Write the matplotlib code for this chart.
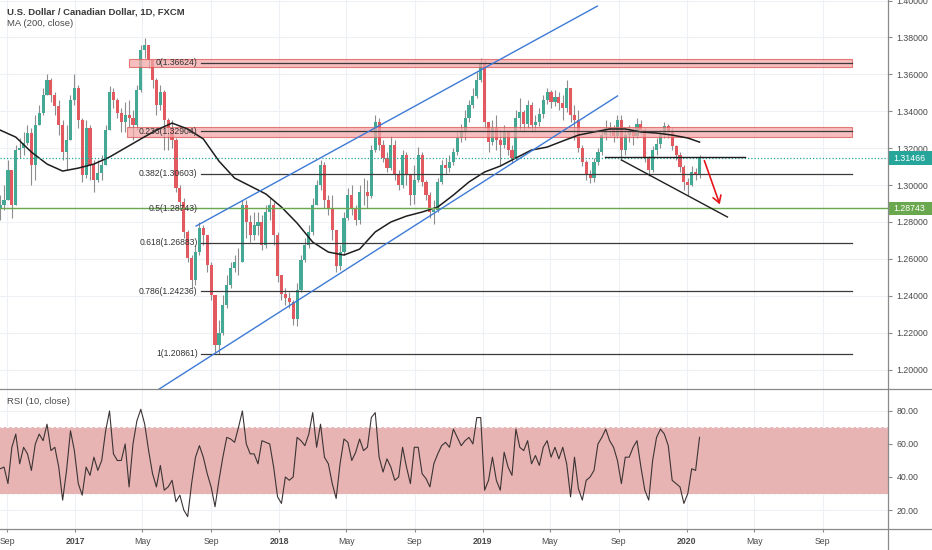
import numpy as np
import pandas as pd
import matplotlib
matplotlib.use('Agg')
import matplotlib.pyplot as plt
import matplotlib.dates as mdates
import matplotlib.transforms as mtransforms
from matplotlib.patches import Rectangle
from matplotlib.lines import Line2D

plt.rcParams['font.family'] = ['Liberation Sans', 'DejaVu Sans']

## data (weekly candles) ##

week_start = '2016-08-19'
first_open = 1.2870

closes = [1.2892, 1.2919, 1.3082, 1.2892, 1.3190, 1.3201, 1.3228, 1.3282, 1.3109, 1.3325,
          1.3391, 1.3488, 1.3569, 1.3488, 1.3428, 1.3325, 1.3179, 1.3244, 1.3461, 1.3526,
          1.3353, 1.3054, 1.3309, 1.3109, 1.3027, 1.3065, 1.3109, 1.3298, 1.3504, 1.3461,
          1.3391, 1.3342, 1.3380, 1.3363, 1.3325, 1.3515, 1.3732, 1.3759, 1.3678, 1.3569,
          1.3434, 1.3504, 1.3353, 1.3309, 1.3244, 1.2984, 1.2908, 1.2746, 1.2605, 1.2485,
          1.2637, 1.2767, 1.2729, 1.2567, 1.2404, 1.2133, 1.2198, 1.2350, 1.2458, 1.2550,
          1.2583, 1.2583, 1.2892, 1.2800, 1.2729, 1.2783, 1.2800, 1.2675, 1.2854, 1.2892,
          1.2729, 1.2512, 1.2410, 1.2388, 1.2366, 1.2279, 1.2431, 1.2594, 1.2675, 1.2746,
          1.2892, 1.3000, 1.3109, 1.2919, 1.2876, 1.2756, 1.2561, 1.2637, 1.2821, 1.2946,
          1.2876, 1.2811, 1.2962, 1.2962, 1.2941, 1.3190, 1.3342, 1.3217, 1.3147, 1.3092,
          1.3217, 1.3054, 1.3000, 1.3163, 1.3054, 1.2946, 1.3027, 1.3163, 1.3017, 1.2946,
          1.2854, 1.2865, 1.3017, 1.3109, 1.3092, 1.3125, 1.3179, 1.3255, 1.3288, 1.3363,
          1.3434, 1.3483, 1.3569, 1.3656, 1.3342, 1.3233, 1.3309, 1.3244, 1.3217, 1.3288,
          1.3190, 1.3147, 1.3363, 1.3396, 1.3331, 1.3434, 1.3325, 1.3342, 1.3385, 1.3461,
          1.3504, 1.3450, 1.3477, 1.3445, 1.3418, 1.3526, 1.3380, 1.3353, 1.3201, 1.3125,
          1.3054, 1.3038, 1.3125, 1.3179, 1.3271, 1.3309, 1.3298, 1.3266, 1.3353, 1.3190,
          1.3271, 1.3288, 1.3266, 1.3331, 1.3298, 1.3147, 1.3082, 1.3190, 1.3223, 1.3271,
          1.3320, 1.3288, 1.3212, 1.3163, 1.3098, 1.3017, 1.3000, 1.3071, 1.3054, 1.3147]

highs = [1.2946, 1.3000, 1.3136, 1.3082, 1.3217, 1.3255, 1.3288, 1.3325, 1.3309, 1.3380,
         1.3434, 1.3526, 1.3602, 1.3580, 1.3504, 1.3461, 1.3353, 1.3325, 1.3488, 1.3602,
         1.3542, 1.3363, 1.3353, 1.3325, 1.3136, 1.3136, 1.3163, 1.3325, 1.3537, 1.3526,
         1.3472, 1.3418, 1.3450, 1.3461, 1.3407, 1.3542, 1.3759, 1.3797, 1.3759, 1.3678,
         1.3580, 1.3542, 1.3515, 1.3363, 1.3353, 1.3255, 1.3000, 1.2930, 1.2756, 1.2621,
         1.2675, 1.2800, 1.2783, 1.2729, 1.2583, 1.2404, 1.2269, 1.2404, 1.2512, 1.2583,
         1.2621, 1.2659, 1.2919, 1.2919, 1.2838, 1.2854, 1.2854, 1.2838, 1.2892, 1.2930,
         1.2908, 1.2746, 1.2512, 1.2442, 1.2420, 1.2377, 1.2469, 1.2621, 1.2713, 1.2783,
         1.2930, 1.3027, 1.3136, 1.3125, 1.2946, 1.2946, 1.2746, 1.2675, 1.2854, 1.2984,
         1.3000, 1.2892, 1.3000, 1.3038, 1.3027, 1.3217, 1.3380, 1.3363, 1.3244, 1.3179,
         1.3266, 1.3244, 1.3082, 1.3190, 1.3179, 1.3054, 1.3109, 1.3206, 1.3179, 1.3027,
         1.2962, 1.2919, 1.3038, 1.3136, 1.3147, 1.3163, 1.3201, 1.3288, 1.3331, 1.3407,
         1.3461, 1.3526, 1.3613, 1.3689, 1.3678, 1.3342, 1.3353, 1.3380, 1.3298, 1.3325,
         1.3288, 1.3217, 1.3407, 1.3472, 1.3407, 1.3461, 1.3450, 1.3380, 1.3418, 1.3488,
         1.3526, 1.3515, 1.3515, 1.3504, 1.3488, 1.3569, 1.3526, 1.3434, 1.3407, 1.3217,
         1.3136, 1.3082, 1.3147, 1.3201, 1.3298, 1.3353, 1.3342, 1.3325, 1.3380, 1.3380,
         1.3309, 1.3325, 1.3309, 1.3363, 1.3353, 1.3309, 1.3157, 1.3212, 1.3255, 1.3298,
         1.3342, 1.3331, 1.3309, 1.3217, 1.3179, 1.3109, 1.3038, 1.3103, 1.3092, 1.3163]

lows = [1.2811, 1.2865, 1.2919, 1.2821, 1.2892, 1.3147, 1.3163, 1.3217, 1.3000, 1.3027,
        1.3325, 1.3380, 1.3488, 1.3450, 1.3380, 1.3271, 1.3136, 1.3082, 1.3244, 1.3434,
        1.3309, 1.3017, 1.3038, 1.3027, 1.2962, 1.3017, 1.3027, 1.3147, 1.3298, 1.3418,
        1.3363, 1.3288, 1.3288, 1.3309, 1.3244, 1.3298, 1.3504, 1.3689, 1.3634, 1.3526,
        1.3380, 1.3407, 1.3190, 1.3190, 1.3201, 1.2962, 1.2865, 1.2713, 1.2583, 1.2442,
        1.2458, 1.2621, 1.2675, 1.2529, 1.2377, 1.2095, 1.2084, 1.2187, 1.2334, 1.2442,
        1.2529, 1.2512, 1.2583, 1.2713, 1.2691, 1.2702, 1.2729, 1.2648, 1.2659, 1.2811,
        1.2675, 1.2475, 1.2377, 1.2350, 1.2334, 1.2241, 1.2236, 1.2420, 1.2583, 1.2659,
        1.2729, 1.2892, 1.2973, 1.2876, 1.2838, 1.2702, 1.2529, 1.2540, 1.2621, 1.2811,
        1.2838, 1.2783, 1.2789, 1.2892, 1.2876, 1.2930, 1.3179, 1.3190, 1.3125, 1.3071,
        1.3082, 1.3027, 1.2973, 1.2984, 1.3000, 1.2892, 1.2897, 1.3017, 1.2995, 1.2919,
        1.2821, 1.2789, 1.2854, 1.3006, 1.3060, 1.3071, 1.3109, 1.3163, 1.3233, 1.3244,
        1.3342, 1.3418, 1.3472, 1.3559, 1.3309, 1.3179, 1.3217, 1.3190, 1.3109, 1.3201,
        1.3163, 1.3120, 1.3136, 1.3298, 1.3288, 1.3309, 1.3288, 1.3288, 1.3320, 1.3363,
        1.3439, 1.3418, 1.3428, 1.3407, 1.3353, 1.3396, 1.3342, 1.3244, 1.3179, 1.3103,
        1.3027, 1.3011, 1.3017, 1.3109, 1.3163, 1.3244, 1.3266, 1.3233, 1.3255, 1.3136,
        1.3163, 1.3233, 1.3217, 1.3255, 1.3277, 1.3125, 1.3049, 1.3071, 1.3163, 1.3201,
        1.3255, 1.3255, 1.3190, 1.3136, 1.3071, 1.2973, 1.2946, 1.2995, 1.3027, 1.3038]

# MA(200) read every 4th week (plus the last one)
ma_idx = list(range(0, 177, 4)) + [179]
ma200 = [1.3298, 1.3260, 1.3179, 1.3114, 1.3076, 1.3092, 1.3114, 1.3152, 1.3201, 1.3250,
         1.3298, 1.3336, 1.3304, 1.3250, 1.3130, 1.3038, 1.2995, 1.2952, 1.2881, 1.2794,
         1.2691, 1.2637, 1.2621, 1.2653, 1.2746, 1.2800, 1.2832, 1.2854, 1.2881, 1.2946,
         1.3017, 1.3071, 1.3103, 1.3147, 1.3190, 1.3206, 1.3239, 1.3271, 1.3288, 1.3304,
         1.3304, 1.3288, 1.3282, 1.3271, 1.3255, 1.3233]

rsi = [45, 46, 36, 58, 66, 48, 58, 54, 44, 60,
       66, 62, 72, 56, 58, 46, 26, 44, 68, 56,
       36, 29, 46, 41, 52, 44, 50, 68, 80, 54,
       50, 50, 60, 34, 60, 74, 81, 72, 56, 42,
       34, 47, 32, 34, 38, 25, 29, 20, 16, 36,
       52, 59, 52, 42, 34, 22, 38, 52, 64, 63,
       61, 70, 80, 60, 54, 54, 48, 62, 61, 60,
       46, 28, 24, 40, 38, 40, 64, 62, 59, 66,
       79, 58, 72, 52, 48, 36, 27, 48, 63, 61,
       50, 55, 63, 56, 58, 76, 79, 52, 43, 51,
       46, 38, 40, 58, 46, 36, 58, 58, 42, 39,
       34, 48, 54, 59, 61, 58, 69, 64, 59, 62,
       64, 60, 76, 76, 32, 38, 52, 38, 32, 55,
       46, 41, 69, 58, 56, 62, 48, 53, 47, 58,
       62, 52, 58, 51, 58, 48, 28, 52, 33, 26,
       38, 40, 44, 60, 64, 69, 62, 58, 50, 36,
       52, 52, 58, 62, 46, 32, 26, 50, 64, 69,
       66, 59, 38, 36, 34, 24, 30, 45, 44, 64]

fib_ratios = ['0', '0.236', '0.382', '0.5', '0.618', '0.786', '1']
fib_prices = [1.36624, 1.32904, 1.30603, 1.28743, 1.26883, 1.24236, 1.20861]
last_price = 1.31466

zone_starts = ['2017-04-07', '2017-04-03']
zone_bottoms = [1.3640, 1.3262]
zone_tops = [1.3684, 1.3316]

channel_upper = (['2017-08-05', '2019-07-25'], [1.2778, 1.3970])
channel_lower = (['2017-05-31', '2019-08-30'], [1.1895, 1.3483])
support_line = (['2019-08-08', '2020-04-14'], [1.3150, 1.3150])
falling_line = (['2019-09-06', '2020-03-14'], [1.3136, 1.2827])
arrow_pts = (['2020-01-31', '2020-03-02'], [1.3147, 1.2881])

xtick_dates = ['2016-09-01', '2017-01-01', '2017-05-01', '2017-09-01', '2018-01-01',
               '2018-05-01', '2018-09-01', '2019-01-01', '2019-05-01', '2019-09-01',
               '2020-01-01', '2020-05-01', '2020-09-01']
xtick_labels = ['Sep', '2017', 'May', 'Sep', '2018', 'May', 'Sep', '2019',
                'May', 'Sep', '2020', 'May', 'Sep']
price_ticks = [1.20, 1.22, 1.24, 1.26, 1.28, 1.30, 1.32, 1.34, 1.36, 1.38, 1.40]
rsi_ticks = [20, 40, 60, 80]

## figure ##

def d(s):
    return mdates.date2num(pd.Timestamp(s))

W, H = 932, 550
fig = plt.figure(figsize=(W / 100, H / 100), dpi=100)
ax = fig.add_axes([0, 1 - 389 / H, 888 / W, 389 / H])
ax_r = fig.add_axes([0, 1 - 529 / H, 888 / W, 140 / H], sharex=ax)

x_left = d('2016-08-18 18:00')
x_right = d('2020-12-26 16:00')

grid_c = '#edf0f5'
text_c = '#4a4a4a'
axis_c = '#8a8a8a'

for a in (ax, ax_r):
    for s in a.spines.values():
        s.set_visible(False)
    a.set_facecolor('white')
    a.grid(True, color=grid_c, lw=0.8, zorder=0)
    a.set_axisbelow(True)
    a.yaxis.tick_right()
    a.tick_params(axis='y', length=3, color=axis_c, labelsize=6.3, labelcolor=text_c, pad=3)
    a.tick_params(axis='x', length=2, color=axis_c, labelsize=6.3, labelcolor=text_c, pad=4)

# candles
dates = pd.date_range(week_start, periods=len(closes), freq='7D')
xs = mdates.date2num(dates)
c = np.array(closes)
o = np.concatenate([[first_open], c[:-1]])
hi = np.maximum(np.array(highs), np.maximum(o, c))
lo = np.minimum(np.array(lows), np.minimum(o, c))
up = c >= o
body_col = np.where(up, '#44a994', '#e25a5f')
ax.vlines(xs, lo, hi, colors='#8d8d8d', lw=0.8, zorder=2)
ax.bar(xs, np.abs(c - o) + 0.0004, bottom=np.minimum(o, c) - 0.0002, width=5.6,
       color=body_col, edgecolor='none', zorder=3)

# MA 200
ax.plot(xs[ma_idx], ma200, color='#1e1e1e', lw=1.1, zorder=5)

# supply zones
fib_x0 = d('2017-08-13')
fib_x1 = d('2020-10-23')
for s, b, t in zip(zone_starts, zone_bottoms, zone_tops):
    ax.add_patch(Rectangle((d(s), b), fib_x1 - d(s), t - b, facecolor='#f3a9a9',
                           edgecolor='#e05555', lw=0.8, alpha=0.75, zorder=4))

# fib levels
for r, p in zip(fib_ratios, fib_prices):
    if r == '0.5':
        ax.axhline(p, color='#6aa84f', lw=1.0, zorder=6)
    else:
        ax.plot([fib_x0, fib_x1], [p, p], color='#3a3a3a', lw=0.9, zorder=6)
    ax.text(d('2017-08-08'), p, '%s(%.5f)' % (r, p), ha='right', va='center',
            fontsize=6.2, color='#333333', zorder=7)

# last price dotted line
ax.axhline(last_price, color='#26a69a', ls=(0, (1, 1.6)), lw=0.9, zorder=6)

# trend lines
for pts, col in [(channel_upper, '#3d7ad6'), (channel_lower, '#3d7ad6'),
                 (support_line, '#1e1e1e'), (falling_line, '#1e1e1e')]:
    ax.plot([d(s) for s in pts[0]], pts[1], color=col, lw=1.0, zorder=6)

ax.annotate('', xy=(d(arrow_pts[0][1]), arrow_pts[1][1]),
            xytext=(d(arrow_pts[0][0]), arrow_pts[1][0]),
            arrowprops=dict(arrowstyle='->,head_length=0.5,head_width=0.3',
                            color='#e3161c', lw=1.2), zorder=8)

ax.set_xlim(x_left, x_right)
ax.set_ylim(1.1895, 1.4003)
ax.set_yticks(price_ticks)
ax.set_yticklabels(['%.5f' % v for v in price_ticks])
plt.setp(ax.get_xticklabels(), visible=False)
ax.tick_params(axis='x', length=0)

# price labels on the axis
blend = mtransforms.blended_transform_factory(ax.transAxes, ax.transData)
for p, col in [(last_price, '#26a69a'), (fib_prices[3], '#6aa84f')]:
    ax.add_patch(Rectangle((1.001, p - 0.0036), 0.05, 0.0072, transform=blend,
                           facecolor=col, edgecolor='none', clip_on=False, zorder=9))
    ax.text(1.006, p, '%.5f' % p, transform=blend, ha='left', va='center',
            fontsize=6.3, color='white', clip_on=False, zorder=10)

# RSI pane
ax_r.axhspan(30, 70, color='#e7b3b3', zorder=1, lw=0)
for lvl in (30, 70):
    ax_r.axhline(lvl, color='#f4f4f4', ls=(0, (3, 2)), lw=0.8, zorder=2)
ax_r.plot(xs, rsi, color='#3c3434', lw=0.8, zorder=3)
ax_r.set_ylim(8.5, 93.3)
ax_r.set_yticks(rsi_ticks)
ax_r.set_yticklabels(['%.2f' % v for v in rsi_ticks])
ax_r.set_xticks([d(s) for s in xtick_dates])
ax_r.set_xticklabels(xtick_labels)
for lab in ax_r.get_xticklabels():
    if lab.get_text().isdigit():
        lab.set_fontweight('bold')
ax_r.set_xlim(x_left, x_right)

# pane borders
for y in (389, 529):
    fig.add_artist(Line2D([0, 1], [1 - y / H, 1 - y / H], color=axis_c, lw=0.9,
                          transform=fig.transFigure))
fig.add_artist(Line2D([888 / W, 888 / W], [0, 1], color=axis_c, lw=0.9,
                      transform=fig.transFigure))

# header texts
fig.text(7 / W, 1 - 12 / H, 'U.S. Dollar / Canadian Dollar, 1D, FXCM', fontsize=6.8,
         fontweight='bold', color='#3a3a3a', va='center')
fig.text(7 / W, 1 - 24 / H, 'MA (200, close)', fontsize=6.8, color=text_c, va='center')
fig.text(7 / W, 1 - 402 / H, 'RSI (10, close)', fontsize=6.8, color=text_c, va='center')

fig.savefig('out.png', dpi=100)
